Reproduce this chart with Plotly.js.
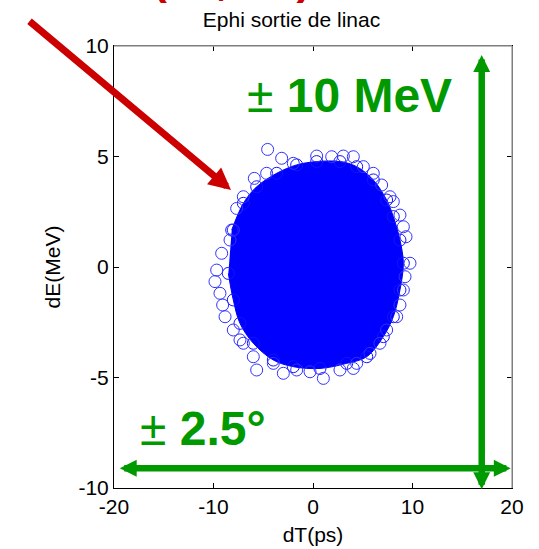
<!DOCTYPE html>
<html><head><meta charset="utf-8">
<script src="https://cdn.plot.ly/plotly-3.0.1.min.js"></script>
<style>body{margin:0;background:#fff}</style>
</head><body><div id="chart" style="width:539px;height:549px"></div>
<script>
// dense body of the beam (dT in ps, dE in MeV), traced round its edge
const coreDT = [-8.51,-8.01,-7.34,-6.0,-3.99,-1.98,0.7,3.39,5.4,7.07,8.07,8.74,9.08,8.74,8.07,7.4,6.06,4.39,2.71,0.37,-1.64,-3.65,-5.66,-7.0,-8.17];
const coreDE = [-0.29,-1.49,-2.55,-3.45,-4.21,-4.51,-4.59,-4.36,-4.06,-3.15,-2.25,-1.04,0.17,1.22,2.28,3.03,3.94,4.54,4.77,4.77,4.62,4.24,3.63,2.88,1.67];
// individual circles visible on the rim and outliers
const edgeDT = [-3.15,-1.98,0.37,1.88,3.05,4.05,5.06,6.06,6.90,7.74,8.07,8.74,9.08,9.35,9.75,9.25,9.08,8.74,8.41,7.40,6.73,5.73,4.39,4.05,2.71,1.04,-0.30,-1.64,-2.98,-3.99,-5.66,-6.0,-7.0,-7.34,-8.01,-8.84,-9.08,-9.35,-9.85,-9.68,-9.18,-8.34,-8.01,-7.67,-7.0,-5.90,-4.66,-4.56];
const edgeDE = [4.92,4.69,5.02,4.99,5.02,4.99,4.54,4.24,3.71,3.18,2.96,2.35,1.82,1.37,0.17,-0.44,-1.04,-1.72,-2.25,-2.85,-3.45,-3.91,-4.36,-4.59,-4.66,-5.04,-4.74,-4.66,-4.81,-4.36,-4.66,-4.06,-3.45,-3.30,-2.85,-2.25,-1.72,-1.19,-0.66,-0.14,0.62,1.22,1.67,2.65,3.18,4.01,4.24,5.32];
const xTicks = [-20,-10,0,10,20];
const yTicks = [-10,-5,0,5,10];

const FONT = 'Liberation Sans, Arial, sans-serif';
const BLUE = 'rgb(0,0,255)';
const GREEN = '#009a00';
const RED = '#cc0000';

const traces = [
  {x: coreDT, y: coreDE, type: 'scatter', mode: 'lines+markers', fill: 'toself',
   fillcolor: BLUE, line: {color: BLUE, width: 1, shape: 'spline'},
   marker: {symbol: 'circle-open', size: 12, color: 'rgb(20,20,255)', line: {width: 1}},
   hoverinfo: 'skip', showlegend: false},
  {x: edgeDT, y: edgeDE, type: 'scatter', mode: 'markers',
   marker: {symbol: 'circle-open', size: 12, color: 'rgb(50,50,255)', line: {width: 1}},
   hoverinfo: 'skip', showlegend: false}
];

const axisCommon = {
  ticks: 'inside', ticklen: 5, tickwidth: 1, tickcolor: '#000',
  showline: true, linecolor: '#000', linewidth: 1, mirror: 'ticks',
  showgrid: false, zeroline: false,
  tickfont: {family: FONT, size: 21, color: '#000'}
};

const layout = {
  width: 539, height: 549,
  margin: {l: 114, r: 27, t: 46, b: 61},
  paper_bgcolor: '#fff', plot_bgcolor: '#fff',
  font: {family: FONT, color: '#000'},
  title: {text: 'Ephi sortie de linac', font: {family: FONT, size: 21, color: '#000'},
          x: 291.5/539, xref: 'container', xanchor: 'center',
          y: 1 - 20/549, yref: 'container', yanchor: 'middle'},
  xaxis: Object.assign({}, axisCommon, {range: [-20, 20], tickvals: xTicks, ticktext: xTicks.map(String),
          title: {text: 'dT(ps)', font: {family: FONT, size: 21, color: '#000'}, standoff: 10}}),
  yaxis: Object.assign({}, axisCommon, {range: [-10, 10], tickvals: yTicks, ticktext: yTicks.map(String),
          title: {text: 'dE(MeV)', font: {family: FONT, size: 21, color: '#000'}, standoff: 12}}),
  shapes: [
    {type: 'line', xref: 'paper', yref: 'paper', x0: 0, x1: 1, y0: 1, y1: 1, line: {color: '#a8a8a8', width: 1.5}, layer: 'above'},
    {type: 'line', xref: 'paper', yref: 'paper', x0: 1, x1: 1, y0: 0, y1: 1, line: {color: '#a8a8a8', width: 1.5}, layer: 'above'}
  ],
  annotations: [
    // red arrow
    {xref: 'paper', yref: 'paper', x: 0.294, y: 0.6742, ax: -203, ay: -170, text: '',
     showarrow: true, arrowhead: 2, arrowwidth: 7, arrowsize: 0.63, arrowcolor: RED, standoff: 0},
    // green vertical double arrow
    {xref: 'paper', yref: 'paper', x: 0.9239, y: 0.9796, ax: 0, ay: 435.7, text: '',
     showarrow: true, arrowside: 'end+start', arrowhead: 2, startarrowhead: 2,
     arrowwidth: 6.5, arrowsize: 0.52, startarrowsize: 0.52, arrowcolor: GREEN, standoff: 0, startstandoff: 0},
    // green horizontal double arrow
    {xref: 'paper', yref: 'paper', x: 0.9967, y: 0.04457, ax: -392.4, ay: 0, text: '',
     showarrow: true, arrowside: 'end+start', arrowhead: 2, startarrowhead: 2,
     arrowwidth: 6.5, arrowsize: 0.52, startarrowsize: 0.52, arrowcolor: GREEN, standoff: 0, startstandoff: 0},
    {xref: 'paper', yref: 'paper', x: 0.329, y: 0.889, xanchor: 'left', yanchor: 'middle',
     text: '± <b>10 MeV</b>', showarrow: false, font: {family: FONT, size: 48, color: GREEN}},
    {xref: 'paper', yref: 'paper', x: 0.0603, y: 0.1355, xanchor: 'left', yanchor: 'middle',
     text: '± <b>2.5°</b>', showarrow: false, font: {family: FONT, size: 48, color: GREEN}},
    // red heading, mostly cut off above the picture
    {xref: 'paper', yref: 'paper', x: 0.5, y: 1.092, xanchor: 'right', yanchor: 'bottom',
     text: '<b>Mesure (dT, dE)</b>', showarrow: false, font: {family: FONT, size: 44, color: RED}}
  ]
};

Plotly.newPlot('chart', traces, layout, {displayModeBar: false, staticPlot: true});
</script>
</body></html>
